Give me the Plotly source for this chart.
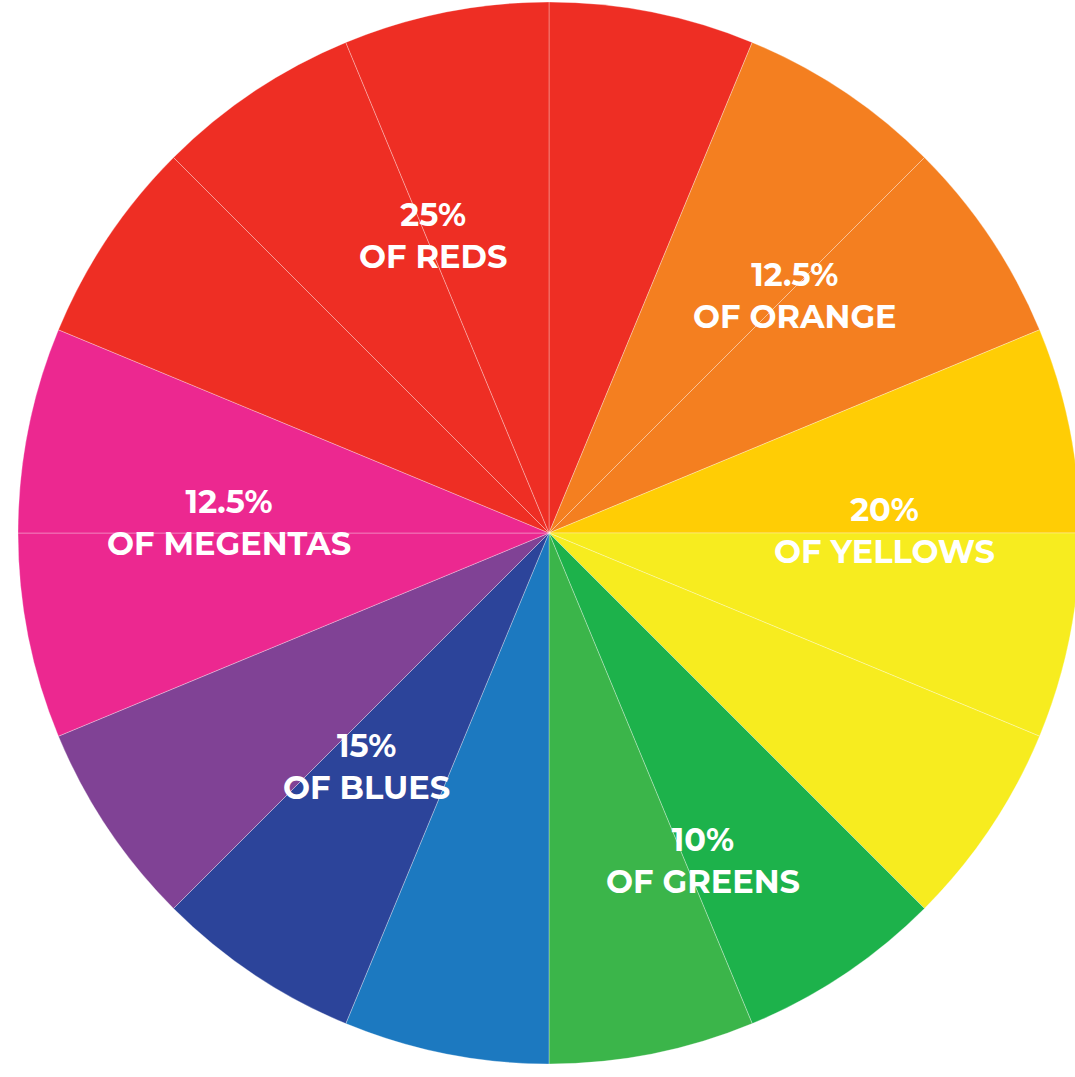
import plotly.graph_objects as go

# Data: 16 equal wedges of the colour wheel, clockwise from 12 o'clock
segments = ["Red A", "Orange A", "Orange B", "Yellow-Orange", "Yellow A", "Yellow B",
            "Green A", "Green B", "Blue", "Dark Blue", "Violet", "Magenta A",
            "Magenta B", "Red B", "Red C", "Red D"]
shares = [1, 1, 1, 1, 1, 1, 1, 1, 1, 1, 1, 1, 1, 1, 1, 1]
colors = ["#EE2E24", "#F47F20", "#F47F20", "#FFCD05", "#F7EC1F", "#F7EC1F",
          "#1DB24B", "#3BB54A", "#1C79C0", "#2C449A", "#804295", "#EC2890",
          "#EC2890", "#EE2E24", "#EE2E24", "#EE2E24"]

label_pct = ["25%", "12.5%", "20%", "10%", "15%", "12.5%"]
label_name = ["OF REDS", "OF ORANGE", "OF YELLOWS", "OF GREENS", "OF BLUES", "OF MEGENTAS"]
label_px = [(433, 235), (795, 295), (884, 530), (703, 860), (366, 766), (229, 522)]

# Figure is a bit larger than the 1075x1077 window so the wheel can run off the right edge
W, H = 1100, 1100
CX, CY, R = 549, 533, 531

fig = go.Figure(go.Pie(
    labels=segments,
    values=shares,
    marker=dict(colors=colors, line=dict(color="rgba(255,255,255,0.3)", width=1)),
    sort=False,
    direction="clockwise",
    rotation=0,
    textinfo="none",
    hoverinfo="label",
    showlegend=False,
    domain=dict(x=[(CX - R) / W, (CX + R) / W], y=[1 - (CY + R) / H, 1 - (CY - R) / H]),
))

for pct, name, (px, py) in zip(label_pct, label_name, label_px):
    fig.add_annotation(
        x=px / W, y=1 - py / H, xref="paper", yref="paper",
        text=f"{pct}<br>{name}", showarrow=False,
        xanchor="center", yanchor="middle", align="center",
        font=dict(family="Montserrat, 'Open Sans', sans-serif", size=32, color="white", weight="bold"),
    )

fig.update_layout(
    width=W, height=H,
    margin=dict(l=0, r=0, t=0, b=0),
    paper_bgcolor="white",
    plot_bgcolor="white",
)

fig.write_html(
    "out.html",
    config={"displayModeBar": False},
    post_script="document.body.style.margin='0';document.body.style.overflow='hidden';",
)
